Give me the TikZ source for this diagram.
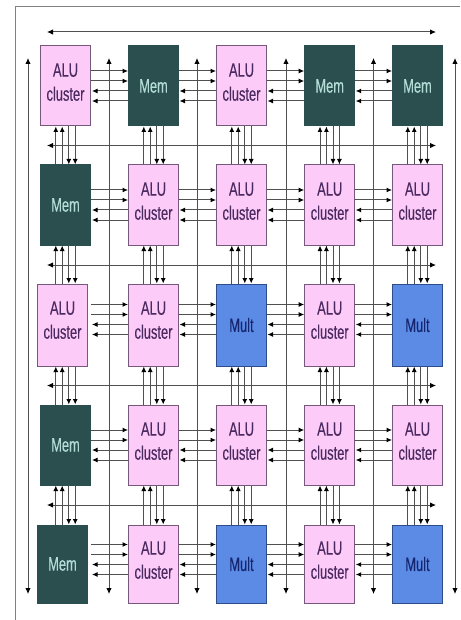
\documentclass[tikz,border=0pt]{standalone}
\usepackage{fontspec}
\setmainfont{Liberation Sans}[FakeStretch=0.66, FakeBold=0.25]
\usetikzlibrary{arrows.meta, calc}
\definecolor{alufill}{HTML}{FCCBF8}
\definecolor{aluedge}{HTML}{76597A}
\definecolor{alutext}{HTML}{4A2A60}
\definecolor{memfill}{HTML}{2B4F4E}
\definecolor{memtext}{HTML}{B4DDD8}
\definecolor{multfill}{HTML}{5C8BE6}
\definecolor{multedge}{HTML}{2C4C8C}
\definecolor{multtext}{HTML}{16266E}
\definecolor{linkgray}{HTML}{505050}

\begin{document}
\begin{tikzpicture}[
  x=1pt, y=-1pt,
  cell/.style={draw, line width=1pt, minimum width=50pt, minimum height=80pt, inner sep=0pt, align=center, font=\fontsize{19.5}{24}\selectfont},
  alu/.style={cell, fill=alufill, draw=aluedge, text=alutext, text depth=8pt},
  mem/.style={cell, fill=memfill, draw=memfill, text=memtext},
  mult/.style={cell, fill=multfill, draw=multedge, text=multtext},
  link/.style={draw=linkgray, line width=1pt, -{Latex[length=5.5pt,width=5pt,color=black]}},
  bus/.style={draw=linkgray, line width=1pt, {Latex[length=6pt,width=5.5pt,color=black]}-{Latex[length=6pt,width=5.5pt,color=black]}},
  frame/.style={draw=gray, line width=1.3pt}
]
\useasboundingbox (0,0) rectangle (460,620);
\fill[white] (0,0) rectangle (460,620);

% page edge
\coordinate (frametop) at (460,6.5);
\coordinate (framecorner) at (15.5,6.5);
\coordinate (framebot) at (15.5,620);
\draw[frame] (frametop) -- (framecorner) -- (framebot);

% buses
\foreach \i/\x in {1/28,2/109,3/197,4/286,5/373.5,6/455}{
  \coordinate (vtop\i) at (\x,58);
  \coordinate (vbot\i) at (\x,594);
  \draw[bus] (vtop\i) -- (vbot\i);
}
\foreach \j/\y in {1/32,2/145.5,3/265,4/385.5,5/505}{
  \coordinate (hleft\j) at (47,\y);
  \coordinate (hright\j) at (436,\y);
  \draw[bus] (hleft\j) -- (hright\j);
}

% cells
\node[alu] (b11) at (65.5,86) {ALU\\cluster};
\node[mem] (b12) at (153.5,86) {Mem};
\node[alu] (b13) at (241.5,86) {ALU\\cluster};
\node[mem] (b14) at (329.7,86) {Mem};
\node[mem] (b15) at (417.5,86) {Mem};

\node[mem] (b21) at (65.5,205) {Mem};
\node[alu] (b22) at (153.5,205) {ALU\\cluster};
\node[alu] (b23) at (241.5,205) {ALU\\cluster};
\node[alu] (b24) at (329.7,205) {ALU\\cluster};
\node[alu] (b25) at (417.5,205) {ALU\\cluster};

\node[alu, minimum height=82pt, text depth=10pt] (b31) at (62.5,325) {ALU\\cluster};
\node[alu, minimum height=82pt, text depth=10pt] (b32) at (153.5,325) {ALU\\cluster};
\node[mult, minimum height=82pt] (b33) at (241.5,325) {Mult};
\node[alu, minimum height=82pt, text depth=10pt] (b34) at (329.7,325) {ALU\\cluster};
\node[mult, minimum height=82pt] (b35) at (417.5,325) {Mult};

\node[mem] (b41) at (65.5,445) {Mem};
\node[alu] (b42) at (153.5,445) {ALU\\cluster};
\node[alu] (b43) at (241.5,445) {ALU\\cluster};
\node[alu] (b44) at (329.7,445) {ALU\\cluster};
\node[alu] (b45) at (417.5,445) {ALU\\cluster};

\node[mem, minimum height=78pt] (b51) at (62.5,564) {Mem};
\node[alu, minimum height=78pt] (b52) at (153.5,564) {ALU\\cluster};
\node[mult, minimum height=78pt] (b53) at (241.5,564) {Mult};
\node[alu, minimum height=78pt] (b54) at (329.7,564) {ALU\\cluster};
\node[mult, minimum height=78pt] (b55) at (417.5,564) {Mult};

% column reference points
\coordinate (midc1) at (65.5,0);
\coordinate (midc2) at (153.5,0);
\coordinate (midc3) at (241.5,0);
\coordinate (midc4) at (329.7,0);
\coordinate (midc5) at (417.5,0);
\coordinate (outc1) at (91,0);
\coordinate (outc2) at (178.5,0);
\coordinate (outc3) at (266.5,0);
\coordinate (outc4) at (354.7,0);

% links between neighbours in a row
\foreach \r/\s in {1/0,2/0,3/-5.5,4/0,5/-4.5}{
  \foreach \c in {1,2,3,4}{
    \pgfmathtruncatemacro{\nxt}{\c+1}
    \foreach \o in {-15,-5}
      \draw[link] ($(outc\c |- b\r\c)+(0,\o+\s)$) -- ($(b\r\nxt.west)+(0,\o+\s)$);
    \foreach \o in {5,15}
      \draw[link] ($(b\r\nxt.west)+(0,\o+\s)$) -- ($(outc\c |- b\r\c)+(1,\o+\s)$);
  }
}

% links between neighbours in a column
\foreach \r in {1,2,3,4}{
  \pgfmathtruncatemacro{\low}{\r+1}
  \foreach \c in {1,2,3,4,5}{
    \foreach \o in {-9.7,-3.3}
      \draw[link] ($(midc\c |- b\low\c.north)+(\o,0)$) -- ($(midc\c |- b\r\c.south)+(\o,0)$);
    \foreach \o in {3.3,9.7}
      \draw[link] ($(midc\c |- b\r\c.south)+(\o,0)$) -- ($(midc\c |- b\low\c.north)+(\o,0)$);
  }
}
\end{tikzpicture}
\end{document}
